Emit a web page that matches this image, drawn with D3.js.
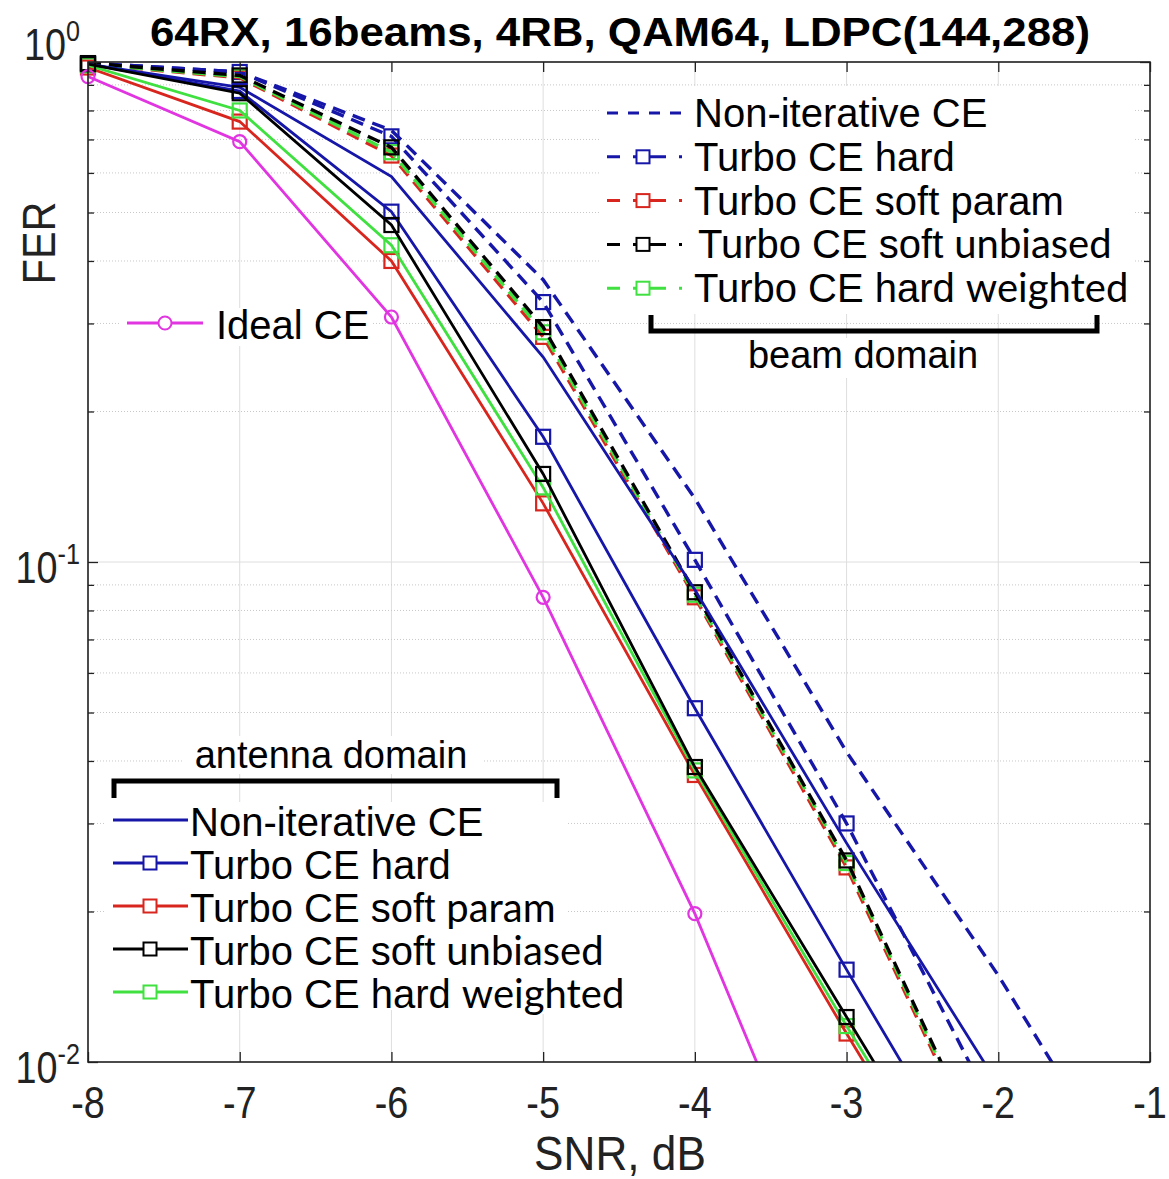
<!DOCTYPE html>
<html>
<head>
<meta charset="utf-8">
<script src="https://cdnjs.cloudflare.com/ajax/libs/d3/7.8.5/d3.min.js"></script>
<style>
  body { margin: 0; background: #fff; }
  svg { display: block; font-family: "Liberation Sans", Arial, sans-serif; }
  .calibri { font-family: Lato, "Open Sans", sans-serif; }
</style>
</head>
<body>
<svg id="chart" width="1169" height="1179"></svg>
<script>
// ---- data ----
var snr = [-8, -7, -6, -5, -4, -3, -2];
var snrLong = [-8, -7, -6, -5, -4, -3, -2, -1];

// antenna domain (solid lines)
var antNonIter   = [0.99, 0.89, 0.59, 0.257, 0.088, 0.0274, 0.009];
var antHard      = [0.99, 0.875, 0.502, 0.178, 0.051, 0.0153, 0.0047];
var antSoftParam = [0.975, 0.76, 0.40, 0.131, 0.0375, 0.0114, 0.0036];
var antSoftUnb   = [0.99, 0.866, 0.472, 0.150, 0.0389, 0.0123, 0.0039];
var antHardW     = [0.985, 0.80, 0.43, 0.141, 0.0383, 0.0118, 0.0038];
var idealCE      = [0.935, 0.693, 0.309, 0.085, 0.0198, 0.0037];

// beam domain (dashed lines)
var beamNonIter   = [0.995, 0.955, 0.73, 0.367, 0.134, 0.0417, 0.0149, 0.0048];
var beamHard      = [0.995, 0.955, 0.71, 0.331, 0.101, 0.030, 0.0077];
var beamSoftParam = [0.99, 0.93, 0.65, 0.282, 0.085, 0.0245, 0.0055];
var beamSoftUnb   = [0.995, 0.94, 0.675, 0.295, 0.087, 0.0253, 0.0057];
var beamHardW     = [0.99, 0.935, 0.66, 0.288, 0.086, 0.025, 0.0056];

var xTicks = [-8, -7, -6, -5, -4, -3, -2, -1];
var yTicks = [1, 0.1, 0.01];
var yTickExp = ["0", "-1", "-2"];

var titleText = "64RX, 16beams, 4RB, QAM64, LDPC(144,288)";
var beamLabels = [["Non-iterative CE", ""], ["Turbo CE hard", ""], ["Turbo CE soft param", ""],
                  ["Turbo CE soft ", "unbiased"], ["Turbo CE hard ", "weighted"]];
var antLabels = [["Non-iterative CE", ""], ["Turbo CE hard", ""], ["Turbo CE soft ", "param"],
                 ["Turbo CE soft ", "unbiased"], ["Turbo CE hard ", "weighted"]];

var blue = "#1616a8", red = "#d8261e", black = "#000", green = "#3fe03f", magenta = "#e035e0";

// plot box (named so they don't clash with window.top)
var pLeft = 88, pRight = 1150, pTop = 62, pBottom = 1062;

var svg = d3.select("#chart");
var x = d3.scaleLinear().domain([-8, -1]).range([pLeft, pRight]);
var y = d3.scaleLog().domain([0.01, 1]).range([pBottom, pTop]);

function zipped(xs, ys) {
  return ys.map(function(v, i) { return [xs[i], v]; });
}

// series table built from the arrays above
var series = [
  { pts: zipped(snrLong, beamNonIter), color: blue, dash: true, marker: null },
  { pts: zipped(snr, beamHard), color: blue, dash: true, marker: "sq" },
  { pts: zipped(snr, beamSoftParam), color: red, dash: true, marker: "sq" },
  { pts: zipped(snr, beamHardW), color: green, dash: true, marker: "sq" },
  { pts: zipped(snr, beamSoftUnb), color: black, dash: true, marker: "sq" },
  { pts: zipped(snr, antNonIter), color: blue, dash: false, marker: null },
  { pts: zipped(snr, antHard), color: blue, dash: false, marker: "sq" },
  { pts: zipped(snr, antSoftParam), color: red, dash: false, marker: "sq" },
  { pts: zipped(snr, antHardW), color: green, dash: false, marker: "sq" },
  { pts: zipped(snr, antSoftUnb), color: black, dash: false, marker: "sq" },
  { pts: zipped(snr, idealCE), color: magenta, dash: false, marker: "circ" }
];

svg.append("rect").attr("width", 1169).attr("height", 1179).attr("fill", "#fff");

svg.append("defs").append("clipPath").attr("id", "plotClip")
  .append("rect").attr("x", pLeft).attr("y", pTop)
  .attr("width", pRight - pLeft).attr("height", pBottom - pTop);

// ---- grid ----
var grid = svg.append("g");
grid.selectAll("line.vx").data(xTicks).enter().append("line")
  .attr("x1", function(d) { return x(d); }).attr("x2", function(d) { return x(d); })
  .attr("y1", pTop).attr("y2", pBottom)
  .attr("stroke", "#dedede").attr("stroke-width", 1);

var minorY = y.ticks().filter(function(d) { return yTicks.indexOf(d) < 0; });
grid.selectAll("line.my").data(minorY).enter().append("line")
  .attr("x1", pLeft).attr("x2", pRight)
  .attr("y1", function(d) { return y(d); }).attr("y2", function(d) { return y(d); })
  .attr("stroke", "#c8c8c8").attr("stroke-width", 1).attr("stroke-dasharray", "1,2");
grid.selectAll("line.hy").data(yTicks).enter().append("line")
  .attr("x1", pLeft).attr("x2", pRight)
  .attr("y1", function(d) { return y(d); }).attr("y2", function(d) { return y(d); })
  .attr("stroke", "#dedede").attr("stroke-width", 1);

// ---- legend backgrounds (they hide the grid, as in the figure) ----
var bg = [[600, 86, 533, 228], [738, 338, 250, 40], [120, 308, 252, 38],
          [182, 736, 300, 38], [106, 802, 460, 208], [446, 922, 190, 92]];
svg.selectAll("rect.bg").data(bg).enter().append("rect")
  .attr("x", function(d) { return d[0]; }).attr("y", function(d) { return d[1]; })
  .attr("width", function(d) { return d[2]; }).attr("height", function(d) { return d[3]; })
  .attr("fill", "#fff");

// ---- curves ----
var line = d3.line()
  .x(function(d) { return x(d[0]); })
  .y(function(d) { return y(d[1]); });

var plot = svg.append("g");
series.forEach(function(s) {
  plot.append("path")
    .datum(s.pts)
    .attr("clip-path", "url(#plotClip)")
    .attr("d", line)
    .attr("fill", "none")
    .attr("stroke", s.color)
    .attr("stroke-width", s.dash ? 3.4 : 2.8)
    .attr("stroke-dasharray", s.dash ? "13,8" : null);

  var shown = s.pts.filter(function(d) { return d[1] >= 0.01 && d[1] <= 1; });
  if (s.marker === "sq") {
    plot.selectAll(null).data(shown).enter().append("rect")
      .attr("x", function(d) { return x(d[0]) - 7; })
      .attr("y", function(d) { return y(d[1]) - 7; })
      .attr("width", 14).attr("height", 14)
      .attr("fill", "none").attr("stroke", s.color).attr("stroke-width", 2.2);
  } else if (s.marker === "circ") {
    plot.selectAll(null).data(shown).enter().append("circle")
      .attr("cx", function(d) { return x(d[0]); })
      .attr("cy", function(d) { return y(d[1]); })
      .attr("r", 6.5)
      .attr("fill", "none").attr("stroke", s.color).attr("stroke-width", 2.2);
  }
});

// ---- axes (MATLAB style: box, ticks inside on all four sides) ----
function styleAxis(g) {
  g.select(".domain").remove();
  g.selectAll(".tick line").attr("stroke", "#222").attr("stroke-width", 1.3);
  g.selectAll("text").remove();
}
svg.append("g").attr("transform", "translate(0," + pBottom + ")")
  .call(d3.axisBottom(x).tickValues(xTicks).tickSize(-10).tickSizeOuter(0)).call(styleAxis);
svg.append("g").attr("transform", "translate(0," + pTop + ")")
  .call(d3.axisTop(x).tickValues(xTicks).tickSize(-10).tickSizeOuter(0)).call(styleAxis);
svg.append("g").attr("transform", "translate(" + pLeft + ",0)")
  .call(d3.axisLeft(y).tickValues(yTicks).tickSize(-10).tickSizeOuter(0)).call(styleAxis);
svg.append("g").attr("transform", "translate(" + pLeft + ",0)")
  .call(d3.axisLeft(y).tickValues(minorY).tickSize(-6).tickSizeOuter(0)).call(styleAxis);
svg.append("g").attr("transform", "translate(" + pRight + ",0)")
  .call(d3.axisRight(y).tickValues(yTicks).tickSize(-10).tickSizeOuter(0)).call(styleAxis);
svg.append("g").attr("transform", "translate(" + pRight + ",0)")
  .call(d3.axisRight(y).tickValues(minorY).tickSize(-6).tickSizeOuter(0)).call(styleAxis);

svg.append("rect").attr("x", pLeft).attr("y", pTop)
  .attr("width", pRight - pLeft).attr("height", pBottom - pTop)
  .attr("fill", "none").attr("stroke", "#222").attr("stroke-width", 1.6);

// tick labels
svg.selectAll("text.xt").data(xTicks).enter().append("text")
  .attr("transform", function(d) { return "translate(" + x(d) + ",1118) scale(0.84,1)"; })
  .attr("text-anchor", "middle").attr("font-size", 45).attr("fill", "#222")
  .text(function(d) { return d; });

var yt = svg.selectAll("text.yt").data(yTicks).enter().append("text")
  .attr("transform", function(d, i) {
    return "translate(80," + (y(d) + (i === 0 ? -2 : 21)) + ") scale(0.84,1)";
  })
  .attr("text-anchor", "end").attr("font-size", 45).attr("fill", "#222");
yt.append("tspan").text("10");
yt.append("tspan").attr("font-size", 30).attr("dy", -19)
  .text(function(d, i) { return yTickExp[i]; });

// axis titles and title
svg.append("text").attr("transform", "translate(620,1170) scale(0.92,1)")
  .attr("text-anchor", "middle").attr("font-size", 48).attr("fill", "#222")
  .text("SNR, dB");
svg.append("text").attr("transform", "translate(55,243) rotate(-90) scale(0.9,1)")
  .attr("text-anchor", "middle").attr("font-size", 46).attr("fill", "#222")
  .text("FER");
svg.append("text").attr("x", 150).attr("y", 46)
  .attr("font-size", 41).attr("font-weight", "bold")
  .attr("textLength", 940).attr("lengthAdjust", "spacingAndGlyphs")
  .text(titleText);

// ---- legends ----
function legendLabel(g, parts, tx, ty) {
  var t = g.append("text").attr("x", tx).attr("y", ty).attr("font-size", 40)
    .attr("fill", "#000").text(parts[0]);
  if (parts[1]) {
    // the pasted-in words use a different (Calibri-like) face
    var w = t.node().getComputedTextLength();
    g.append("text").attr("class", "calibri").attr("x", tx + w + 11).attr("y", ty)
      .attr("font-size", 40).attr("fill", "#000").text(parts[1]);
  }
}
function legendMarker(g, kind, cx, cy, color) {
  if (kind === "sq") {
    g.append("rect").attr("x", cx - 6.5).attr("y", cy - 6.5).attr("width", 13).attr("height", 13)
      .attr("fill", "#fff").attr("stroke", color).attr("stroke-width", 2);
  } else if (kind === "circ") {
    g.append("circle").attr("cx", cx).attr("cy", cy).attr("r", 6.5)
      .attr("fill", "#fff").attr("stroke", color).attr("stroke-width", 2);
  }
}

// beam domain legend (top right), dashed styles
var beamSeries = series.slice(0, 5);
var beamOrder = [0, 1, 2, 4, 3];   // legend order: blue, blue sq, red, black, green
var lgB = svg.append("g");
beamLabels.forEach(function(lab, i) {
  var s = beamSeries[beamOrder[i]];
  var ly = 113 + i * 43.8;
  lgB.append("line").attr("x1", 607).attr("x2", 682).attr("y1", ly).attr("y2", ly)
    .attr("stroke", s.color).attr("stroke-width", 3)
    .attr("stroke-dasharray", s.marker ? "13,13,33,13,3" : "11,10");
  legendMarker(lgB, s.marker, 643, ly, s.color);
  legendLabel(lgB, lab, i === 3 ? 698 : 694, ly + 14);
});
lgB.append("path").attr("d", "M651,315 V331 H1097 V315")
  .attr("fill", "none").attr("stroke", "#000").attr("stroke-width", 5);
lgB.append("text").attr("x", 863).attr("y", 368).attr("text-anchor", "middle")
  .attr("font-size", 38).text("beam domain");

// antenna domain legend (bottom left), solid styles
var antSeries = series.slice(5, 10);
var antOrder = [0, 1, 2, 4, 3];
var lgA = svg.append("g");
antLabels.forEach(function(lab, i) {
  var s = antSeries[antOrder[i]];
  var ly = 820 + i * 43;
  lgA.append("line").attr("x1", 113).attr("x2", 188).attr("y1", ly).attr("y2", ly)
    .attr("stroke", s.color).attr("stroke-width", 2.8);
  legendMarker(lgA, s.marker, 150, ly, s.color);
  legendLabel(lgA, lab, 190, ly + 16);
});
lgA.append("path").attr("d", "M114,798 V781 H557 V798")
  .attr("fill", "none").attr("stroke", "#000").attr("stroke-width", 5);
lgA.append("text").attr("x", 331).attr("y", 768).attr("text-anchor", "middle")
  .attr("font-size", 38).text("antenna domain");

// ideal CE legend
var lgI = svg.append("g");
lgI.append("line").attr("x1", 127).attr("x2", 203).attr("y1", 323).attr("y2", 323)
  .attr("stroke", magenta).attr("stroke-width", 2.8);
legendMarker(lgI, "circ", 165, 323, magenta);
legendLabel(lgI, ["Ideal CE", ""], 216, 339);
</script>
</body>
</html>
